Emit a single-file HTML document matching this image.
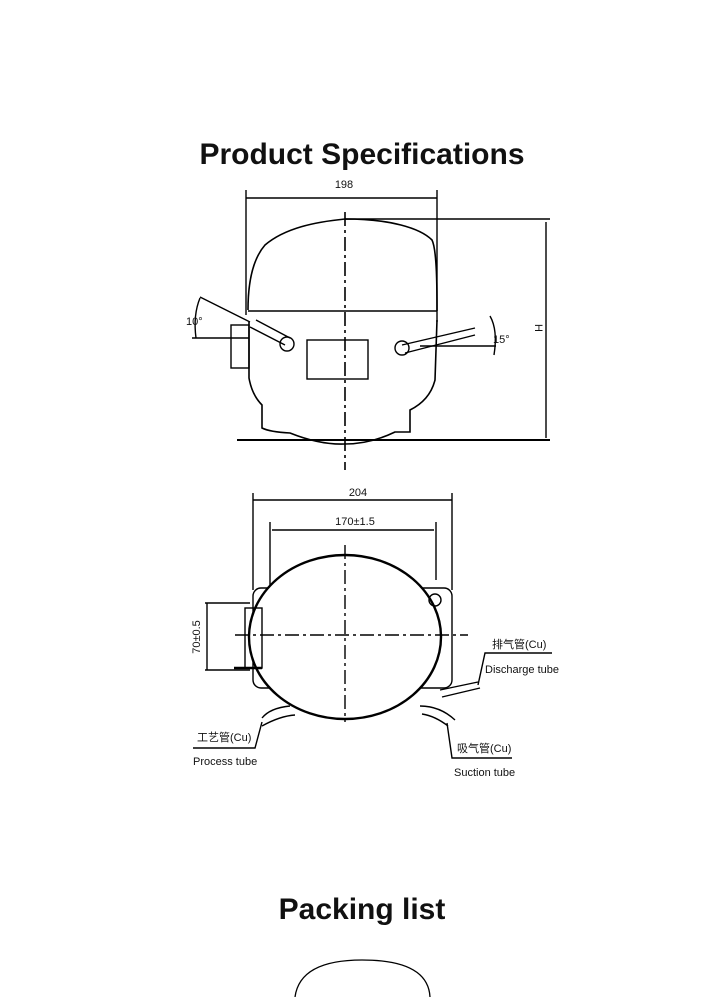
<!DOCTYPE html>
<html><head><meta charset="utf-8"><style>
html,body{margin:0;padding:0;background:#fff;}
body{width:728px;height:997px;position:relative;overflow:hidden;font-family:"Liberation Sans",sans-serif;}
.t{position:absolute;left:0;width:724px;text-align:center;font-weight:bold;font-size:30px;color:#111;}
</style></head><body>
<div class="t" style="top:138px;">Product Specifications</div>
<div class="t" style="top:893px;">Packing list</div>
<svg width="728" height="997" style="position:absolute;left:0;top:0" font-family="Liberation Sans, Noto Sans CJK SC, sans-serif">
<g stroke="#000" fill="none" stroke-width="1.4">
<line x1="246" y1="190" x2="246" y2="315"/>
<line x1="437" y1="190" x2="437" y2="322"/>
<line x1="246" y1="198" x2="437" y2="198"/>
<line x1="345" y1="219" x2="550" y2="219"/>
<line x1="237" y1="440" x2="550" y2="440" stroke-width="2"/>
<line x1="546" y1="222" x2="546" y2="438"/>
<line x1="345" y1="212" x2="345" y2="470" stroke-dasharray="14,4,3,4" stroke-width="1.6"/>
<path d="M248 310 C248 285 252 260 265 245 C285 228 315 222 345 219 C390 219 420 228 432 240 C437 250 437 290 437 311" stroke-width="1.6"/>
<line x1="248" y1="311" x2="437" y2="311"/>
<path d="M249 322 L249 378 Q252 395 262 405 L262 428 Q270 432 290 433 Q320 445 345 444 Q370 444 395 432 L410 432 L410 410 Q430 400 435 380 L437 320" stroke-width="1.6"/>
<rect x="307" y="340" width="61" height="39"/>
<path d="M250 327 L285 345 M256 320 L290 338"/>
<circle cx="287" cy="344" r="7"/>
<path d="M402 345 L475 328 M405 353 L475 335"/>
<circle cx="402" cy="348" r="7"/>
<path d="M200 297 L250 322"/>
<path d="M192 338 L249 338"/>
<path d="M200 298 Q193 315 196 338"/>
<path d="M490 316 Q498 330 494 355"/>
<path d="M420 346 L496 346"/>
<rect x="231" y="325" width="18" height="43"/>
<line x1="253" y1="493" x2="253" y2="590"/>
<line x1="452" y1="493" x2="452" y2="590"/>
<line x1="253" y1="500" x2="452" y2="500"/>
<line x1="270" y1="522" x2="270" y2="590"/>
<line x1="436" y1="522" x2="436" y2="580"/>
<line x1="272" y1="530" x2="434" y2="530" stroke-width="1.6"/>
<rect x="253" y="588" width="199" height="100" rx="8"/>
<ellipse cx="345" cy="637" rx="96" ry="82" fill="#fff" stroke-width="2.4"/>
<line x1="235" y1="635" x2="468" y2="635" stroke-dasharray="14,4,3,4"/>
<line x1="345" y1="545" x2="345" y2="722" stroke-dasharray="14,4,3,4"/>
<circle cx="435" cy="600" r="6"/>
<line x1="207" y1="603" x2="207" y2="670"/>
<line x1="205" y1="603" x2="250" y2="603"/>
<line x1="205" y1="670" x2="250" y2="670"/>
<rect x="245" y="608" width="17" height="60"/>
<line x1="234" y1="668" x2="262" y2="668" stroke-width="2.5"/>
<path d="M440 690 L478 682 M442 697 L480 688"/>
<path d="M262 718 Q270 708 290 706 M262 726 Q280 716 295 715"/>
<path d="M420 706 Q440 706 455 720 M422 714 Q435 716 448 726"/>
<path d="M552 653 L485 653 L478 685"/>
<path d="M262 722 L255 748 L193 748"/>
<path d="M447 723 L452 758 L512 758"/>
</g>
<g font-size="11" fill="#111">
<text x="344" y="188" text-anchor="middle">198</text>
<text x="186" y="325">10°</text>
<text x="493" y="343">15°</text>
<text x="539" y="332" transform="rotate(90 539 328)" text-anchor="middle">H</text>
<text x="358" y="496" text-anchor="middle">204</text>
<text x="355" y="525" text-anchor="middle">170±1.5</text>
<text x="200" y="637" transform="rotate(-90 200 637)" text-anchor="middle">70±0.5</text>
<text x="492" y="648">排气管(Cu)</text>
<text x="485" y="673">Discharge tube</text>
<text x="197" y="741">工艺管(Cu)</text>
<text x="193" y="765">Process tube</text>
<text x="457" y="752">吸气管(Cu)</text>
<text x="454" y="776">Suction tube</text>
</g>
<path d="M295 997 Q300 960 362 960 Q428 960 430 997" stroke="#000" fill="none" stroke-width="1.3"/>
</svg>
</body></html>
